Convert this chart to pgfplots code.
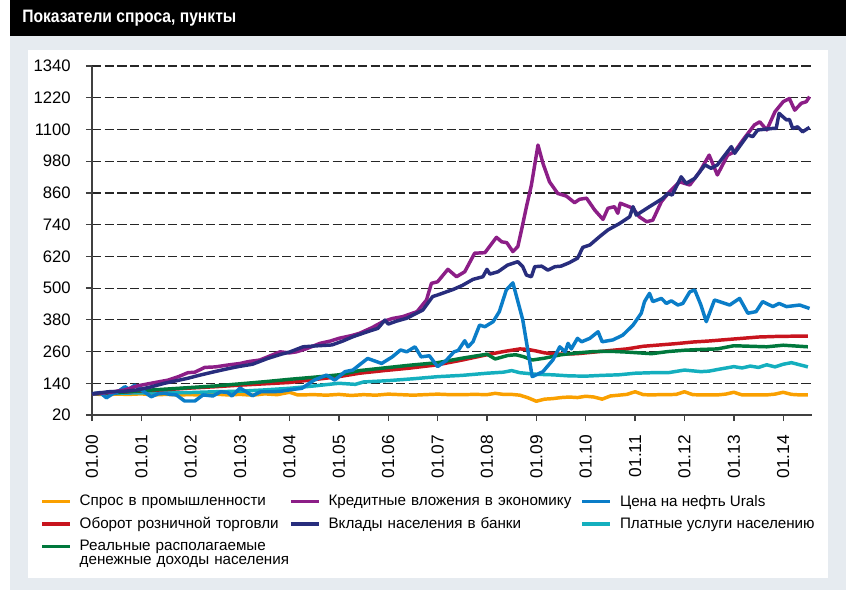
\documentclass[border=0pt]{standalone}
\usepackage{pgfplots}
\pgfplotsset{compat=1.18}
\usepackage{graphicx}
\usepackage{fontspec}
\setmainfont{Liberation Sans}
\definecolor{bggray}{RGB}{230,235,240}
\definecolor{cInd}{RGB}{250,160,0}
\definecolor{cRet}{RGB}{200,20,30}
\definecolor{cInc}{RGB}{0,120,60}
\definecolor{cCred}{RGB}{140,30,135}
\definecolor{cDep}{RGB}{40,45,125}
\definecolor{cOil}{RGB}{10,125,200}
\definecolor{cSrv}{RGB}{20,175,190}
\begin{document}
\begin{tikzpicture}
\useasboundingbox (0,0) rectangle (634.5pt,-442.5pt);
\fill[white] (0,0) rectangle (634.5pt,-442.5pt);
\fill[bggray] (7.5pt,-27pt) rectangle (634.5pt,-442.5pt);
\fill[black] (7.5pt,0) rectangle (634.5pt,-27pt);
\node[anchor=west,text=white,inner sep=0pt,font=\bfseries\fontsize{13.5}{14}\selectfont] at (16.5pt,-13.5pt) {\scalebox{0.87}[1]{Показатели спроса, пункты}};
\fill[white] (21pt,-37.5pt) rectangle (621pt,-433.5pt);
\begin{axis}[
  at={(69pt,-311.25pt)}, anchor=south west,
  scale only axis, width=540pt, height=261.75pt,
  xmin=0, xmax=175, ymin=20, ymax=1340,
  axis x line*=bottom, axis y line*=left,
  axis line style={draw=black!75, line width=1.1pt},
  tick style={black!75, line width=1pt},
  major tick length=4.5pt, tick align=outside,
  xtick={0,12,...,168},
  xticklabels={01.00,01.01,01.02,01.03,01.04,01.05,01.06,01.07,01.08,01.09,01.10,01.11,01.12,01.13,01.14},
  xticklabel style={rotate=90, anchor=east, font=\fontsize{13}{13}\selectfont},
  xticklabel shift=7pt,
  ytick={20,140,...,1340},
  yticklabel style={font=\fontsize{12.5}{12.5}\selectfont},
  yticklabel shift=8pt,
  /pgf/number format/1000 sep={},
  /pgf/number format/assume math mode=true,
  ymajorgrids,
  major grid style={black!85, line width=0.9pt, dash pattern=on 7pt off 2.5pt},
  every axis plot/.append style={line width=2.6pt, line join=round},
  legend columns=3, transpose legend,
  legend cell align=left,
  legend image code/.code={\draw[#1] (0pt,0pt) -- (21pt,0pt);},
  legend style={at={(rel axis cs:-0.0722,-0.225)}, anchor=north west,
    draw=none, fill=none, inner sep=0pt,
    font=\fontsize{11.4}{10.5}\selectfont,
    column sep=6pt, row sep=5pt,
    nodes={inner xsep=0pt, inner ysep=1pt}},
]
% Спрос в промышленности
\addplot[cInd, forget plot] table {
0 100
3 97
6 99
9 98
12 100
15 96
18 98
21 96
24 97
27 95
30 99
33 96
36 98
39 95
42 100
45 97
48 106
50 96
54 97
57 95
60 98
63 94
66 97
69 95
72 99
75 97
78 95
81 97
84 99
87 97
90 97
93 98
96 97
98 102
100 98
102 98
104 95
106 85
108 72
110 80
112 82
114 86
116 88
118 86
120 91
122 88
124 80
126 92
128 95
130 98
132 108
134 97
136 96
138 97
140 97
142 98
144 108
146 97
148 96
150 96
152 96
154 99
156 106
158 96
160 96
162 96
164 96
166 99
168 106
170 98
172 96
174 96
};
% Платные услуги населению
\addplot[cSrv, forget plot] table {
0 100
6 102
12 104
18 104
24 105
30 108
36 110
42 115
48 121
54 130
60 140
64 136
66 145
72 150
78 157
84 165
90 170
96 178
100 182
102 188
104 180
108 174
112 172
116 168
120 167
124 170
128 172
132 178
136 180
140 180
144 190
148 184
150 186
152 192
156 203
158 198
160 205
162 200
164 210
166 202
168 212
170 218
172 210
174 202
};
% Оборот розничной торговли
\addplot[cRet, forget plot] table {
0 100
6 105
12 111
18 116
24 122
30 127
36 133
42 138
48 143
54 154
60 165
65 178
71 188
77 197
84 210
90 228
96 248
100 260
104 270
106 268
108 262
110 255
114 250
118 252
122 258
126 264
130 270
134 280
138 285
142 290
146 296
150 300
154 305
158 310
162 315
166 317
170 318
174 318
};
% Реальные располагаемые доходы
\addplot[cInc, forget plot] table {
0 100
6 105
12 112
18 118
24 124
30 130
36 138
42 146
48 155
54 163
60 172
65 188
71 198
77 208
84 218
90 235
96 250
98 232
101 245
103 248
105 240
107 228
110 235
114 248
118 255
122 260
126 261
130 258
134 254
136 252
140 260
144 265
148 268
152 270
156 282
160 280
164 278
168 284
172 280
174 278
};
% Цена на нефть Urals
\addplot[cOil, forget plot] table {
0 100
2 105
3.5 85
5 100
6 105
8 127
9 118
10.4 133
12 115
14.4 89
16 100
17.6 102
19 98
20.5 96
22.5 73
25 73
27 96
29.4 92
31.3 108
33 105
34 92
36 122
39 93
41 108
44 108
46 110
48 115
51 121
54 152
57 171
59 152
61.5 184
63.4 190
67 234
70.4 215
73 240
75 266
76.5 259
78.5 278
80 240
82 244
84 203
86 225
88 259
89 264
90.6 301
91.4 278
92.6 297
94.2 360
95.5 354
97.5 373
99 411
100.7 493
102.3 520
104.7 380
107 165
109.6 184
112 228
113.7 278
115 259
115.7 291
116.5 270
118 310
119 297
121 310
123 335
124 297
126.6 304
129 322
131.5 360
133.5 405
134.3 449
135.5 480
136.3 449
138.4 461
139.6 442
140.8 452
142.4 436
143.6 442
145.3 486
146.5 493
148 436
149.3 373
151.3 455
155 436
157.4 461
159.4 405
161.4 411
163 449
165.5 430
167 442
168.8 430
172 436
174.4 423
};
% Кредитные вложения в экономику
\addplot[cCred, forget plot] table {
0 100
4 105
8 115
11 130
15 142
18.5 152
21 165
23.3 180
25 182
27.4 200
30 202
33 209
36 215
38 222
40.8 228
42.7 240
45.7 259
48 255
49.7 259
52 270
55.4 291
58 300
60 310
63 320
65 329
68 350
70.7 373
73 385
75.5 392
77 400
79 411
81.3 455
82.5 518
84 524
86.5 571
88.6 543
90.6 562
93 632
95.5 634
98.3 692
99.6 675
100.8 672
102.3 638
103.5 657
104.4 720
105.6 808
106.8 890
108.4 1041
109.6 972
111.2 902
113.2 858
115.3 848
117.3 823
118.5 836
120.2 840
122.2 795
124.2 760
125.4 802
127 808
127.8 783
128.4 821
131.5 802
133 770
134.8 751
136.3 757
138.4 827
140.4 865
142.8 902
145.3 890
147.7 940
150 1003
152 928
154.5 1003
156.2 1016
158.2 1060
161 1117
162.3 1129
164 1098
166 1167
168 1205
169.5 1217
170.8 1173
172.4 1199
173.6 1205
174.4 1224
};
% Вклады населения в банки
\addplot[cDep, forget plot] table {
0 100
4 108
8 110
11 115
14 125
17.6 140
20 148
23.3 159
26 170
29.8 184
33 195
35.5 203
39 212
42.7 234
46 250
48 258
51.3 278
55 282
58.3 285
61 300
63.4 316
66 330
69.5 348
71.2 379
72 364
74 375
76.5 386
80.4 417
82.8 468
84 474
87.8 495
90 510
92.6 533
95 543
96 571
96.7 553
98.7 562
101 587
103.5 600
104.7 581
105.6 549
106.8 543
107.6 581
109.3 583
110.8 568
112.5 581
114 583
116 596
118 613
119.3 654
121 663
123.4 695
125.4 720
128.3 745
130.7 770
131.5 808
132.3 776
135.5 808
138.7 839
140 858
141 852
143.2 921
144.4 896
146.5 915
149 966
150.5 953
152 966
155.4 1035
156.2 1010
159.4 1079
160.6 1073
161.8 1098
165.5 1104
166.3 1104
167 1161
168.8 1136
169.5 1138
170.3 1104
171.5 1110
172.7 1091
174.4 1108
};
\addlegendimage{cInd, line width=2.6pt}
\addlegendentry[text width=151pt]{Спрос в промышленности}
\addlegendimage{cRet, line width=2.6pt}
\addlegendentry[text width=151pt]{Оборот розничной торговли}
\addlegendimage{cInc, line width=2.6pt}
\addlegendentry[text width=151pt]{Реальные располагаемые\\\makebox[151pt][l]{денежные доходы населения}}
\addlegendimage{cCred, line width=2.6pt}
\addlegendentry[text width=183pt]{Кредитные вложения в экономику}
\addlegendimage{cDep, line width=2.6pt}
\addlegendentry[text width=183pt]{Вклады населения в банки}
\addlegendimage{empty legend}
\addlegendentry{}
\addlegendimage{cOil, line width=2.6pt}
\addlegendentry{Цена на нефть Urals}
\addlegendimage{cSrv, line width=2.6pt}
\addlegendentry{Платные услуги населению}
\end{axis}
\end{tikzpicture}
\end{document}
